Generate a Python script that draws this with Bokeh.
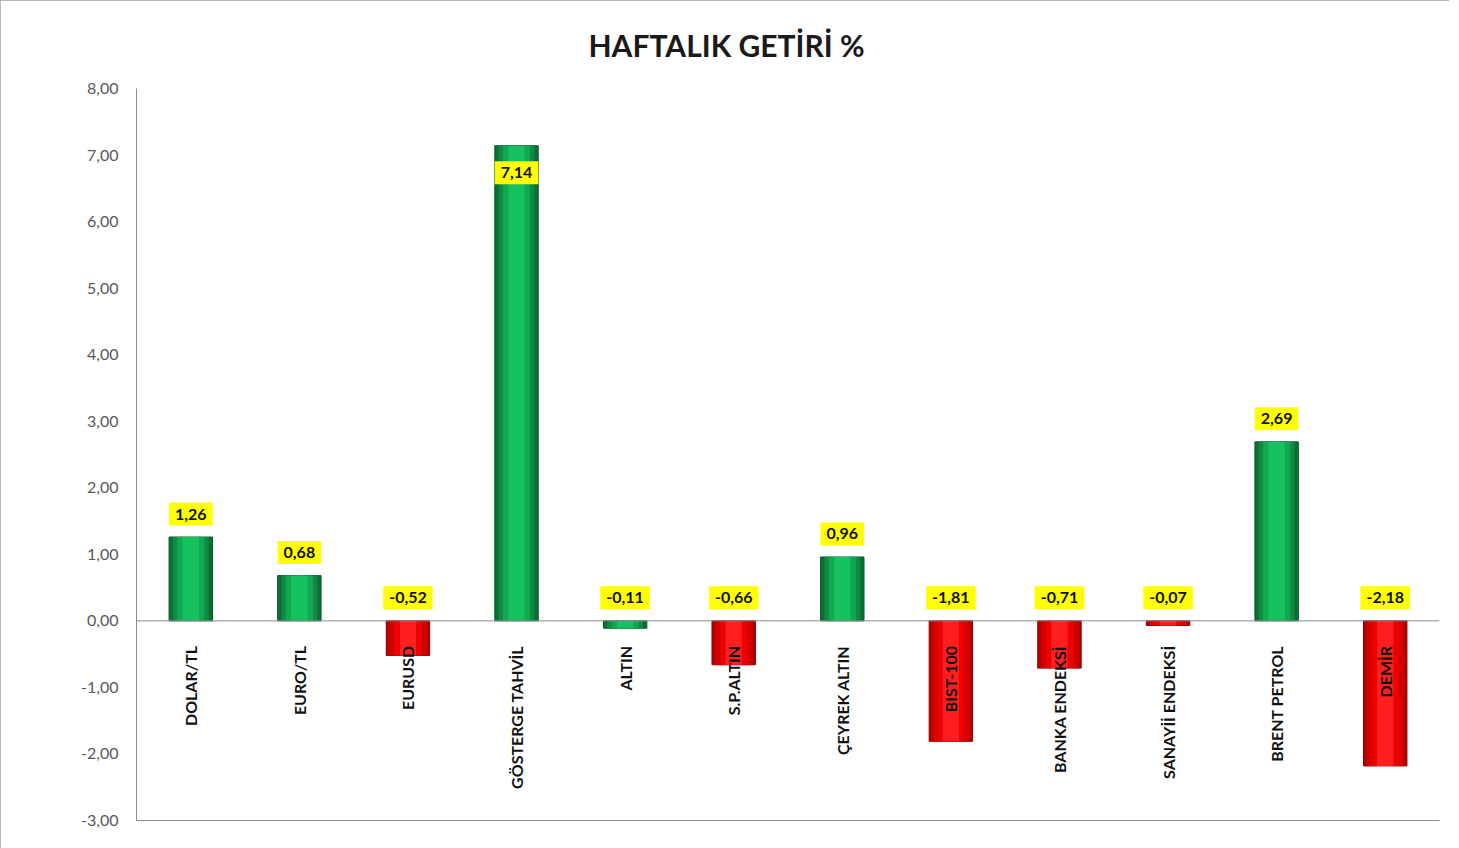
import math
from bokeh.plotting import figure
from bokeh.models import (FactorRange, Range1d, ColumnDataSource, CustomJSTickFormatter,
                          FixedTicker, Span)
from bokeh.core.properties import value
from bokeh.embed import file_html
from bokeh.resources import INLINE

# ---- data ----
title_text = "HAFTALIK GETİRİ %"
categories = ["DOLAR/TL", "EURO/TL", "EURUSD", "GÖSTERGE TAHVİL", "ALTIN", "S.P.ALTIN",
              "ÇEYREK ALTIN", "BIST-100", "BANKA ENDEKSİ", "SANAYİİ ENDEKSİ",
              "BRENT PETROL", "DEMİR"]
values = [1.26, 0.68, -0.52, 7.14, -0.11, -0.66, 0.96, -1.81, -0.71, -0.07, 2.69, -2.18]
bar_tone = ["green", "green", "red", "green", "green", "red", "green", "red", "red", "red",
            "green", "red"]
y_ticks = [-3, -2, -1, 0, 1, 2, 3, 4, 5, 6, 7, 8]

# ---- styling ----
FONT = "Lato"
GREEN_LAYERS = [(0.40, "#0b6f35"), (0.33, "#0e8a43"), (0.25, "#10a852"), (0.15, "#16c25f")]
RED_LAYERS = [(0.40, "#b80000"), (0.33, "#d40000"), (0.25, "#ec0000"), (0.15, "#ff1f1f")]
AXIS_GRAY = "#8c8c8c"

p = figure(width=1449, height=848, x_range=FactorRange(*categories, range_padding=0),
           y_range=Range1d(-3, 8), output_backend="svg", toolbar_location=None,
           min_border_left=136, min_border_right=10, min_border_top=88,
           min_border_bottom=28)
p.styles = {"outline": "2px solid #a0a0a0", "outline-offset": "-2px"}

p.title.text = title_text
p.title.align = "left"
p.title.offset = 452
p.title.vertical_align = "top"
p.title.text_font = FONT
p.title.text_font_size = "30px"
p.title.text_font_style = "bold"
p.title.text_color = "#1a1a1a"
p.title.standoff = 48

p.xgrid.visible = False
p.ygrid.visible = False
p.outline_line_color = None

# y axis
p.yaxis.ticker = FixedTicker(ticks=y_ticks)
p.yaxis.formatter = CustomJSTickFormatter(code="return tick.toFixed(2).replace('.', ',');")
p.yaxis.axis_line_color = AXIS_GRAY
p.yaxis.major_tick_line_color = None
p.yaxis.minor_tick_line_color = None
p.yaxis.major_tick_out = 0
p.yaxis.major_label_standoff = 18
p.yaxis.major_label_text_font = FONT
p.yaxis.major_label_text_font_size = "16px"
p.yaxis.major_label_text_color = "#595959"

# x axis (line only at bottom; category names are drawn near the zero line)
p.xaxis.ticker = FixedTicker(ticks=[])
p.xaxis.axis_line_color = AXIS_GRAY
p.xaxis.major_tick_line_color = None
p.xaxis.minor_tick_line_color = None
p.xaxis.major_tick_out = 0

# zero line
p.add_layout(Span(location=0, dimension="width", line_color=AXIS_GRAY, line_width=1))

# bars, layered to imitate the cylinder shading
green_x = [c for c, t in zip(categories, bar_tone) if t == "green"]
green_v = [v for v, t in zip(values, bar_tone) if t == "green"]
red_x = [c for c, t in zip(categories, bar_tone) if t == "red"]
red_v = [v for v, t in zip(values, bar_tone) if t == "red"]
src_g = ColumnDataSource(dict(x=green_x, top=green_v))
src_r = ColumnDataSource(dict(x=red_x, top=red_v))
for i, (w, c) in enumerate(GREEN_LAYERS):
    p.vbar(x="x", top="top", bottom=0, width=w, source=src_g, fill_color=c,
           line_color="#085a2b" if i == 0 else None, line_width=1)
for i, (w, c) in enumerate(RED_LAYERS):
    p.vbar(x="x", top="top", bottom=0, width=w, source=src_r, fill_color=c,
           line_color="#8a0000" if i == 0 else None, line_width=1)

# category labels, rotated, just below the zero line
cat_src = ColumnDataSource(dict(x=categories, y=[0] * len(categories)))
p.text(x="x", y="y", text="x", source=cat_src, angle=math.pi / 2, y_offset=25,
       text_align="right", text_baseline="middle", text_font=value(FONT),
       text_font_size="16px", text_font_style="bold", text_color="#111111")

# value labels in yellow boxes
lab_y = [max(v, 0) for v in values]
lab_off = [27 if v > 7 else -23 for v in values]
lab_txt = [f"{v:.2f}".replace(".", ",") for v in values]
lab_src = ColumnDataSource(dict(x=categories, y=lab_y, off=lab_off, t=lab_txt))
p.text(x="x", y="y", text="t", source=lab_src, y_offset="off",
       text_align="center", text_baseline="middle", text_font=value(FONT),
       text_font_size="16px", text_font_style="bold", text_color="#111111",
       background_fill_color="#ffff00", padding=6)

open("out.html", "w").write(file_html(p, INLINE))
